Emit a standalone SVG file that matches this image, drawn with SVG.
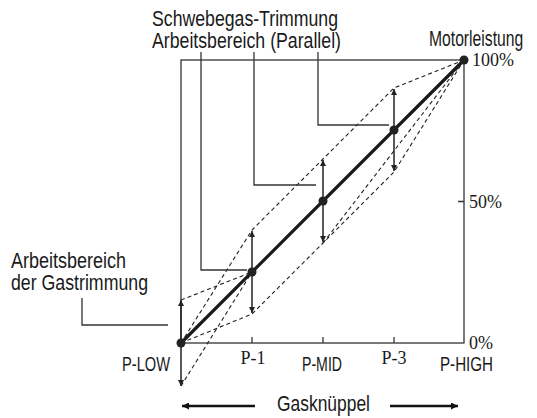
<svg xmlns="http://www.w3.org/2000/svg" width="537" height="418" viewBox="0 0 537 418">
<style>
.sans{font-family:"Liberation Sans",Arial,sans-serif;font-size:21.5px;fill:#1a1a1a}
.sm{font-size:19.5px}
.serif{font-family:"Liberation Serif","Times New Roman",serif;font-size:18px;fill:#1a1a1a}
.frame{fill:none;stroke:#333;stroke-width:1.3}
.lead{fill:none;stroke:#333;stroke-width:1.3}
.dash{fill:none;stroke:#222;stroke-width:1.1;stroke-dasharray:4 3}
.main{fill:none;stroke:#1a1a1a;stroke-width:3.2}
.varr{fill:none;stroke:#222;stroke-width:1.5;marker-start:url(#ah);marker-end:url(#ah)}
.uarr{fill:none;stroke:#222;stroke-width:1.5;marker-end:url(#ah)}
.big{fill:none;stroke:#111;stroke-width:2.4;marker-end:url(#bh)}
.dot{fill:#222}
</style>
<defs>
<marker id="ah" viewBox="0 0 10 10" refX="10" refY="5" markerWidth="8" markerHeight="6" markerUnits="userSpaceOnUse" orient="auto-start-reverse">
<path d="M0,0 L10,5 L0,10 Z" fill="#222"/>
</marker>
<marker id="bh" viewBox="0 0 10 10" refX="10" refY="5" markerWidth="11" markerHeight="7" markerUnits="userSpaceOnUse" orient="auto">
<path d="M0,0 L10,5 L0,10 Z" fill="#111"/>
</marker>
</defs>

<g id="frame">
<rect class="frame" x="181" y="60" width="283" height="283"/>
<path class="frame" d="M252,337 V343 M323,337 V343 M394,337 V343 M458,201.5 H464"/>
</g>

<g id="connectors">
<path class="dash" d="M181,343 L252,230 L323,159 L394,88 L464,60"/>
<path class="dash" d="M181,343 L252,314 L323,243 L394,172 L464,60"/>
<path class="dash" d="M323,243 L464,60"/>
<path class="dash" d="M181,300 L252,272 M181,386 L252,272"/>
<path class="main" d="M181,343 L464,60"/>
<path class="varr" d="M252,231 V313"/>
<path class="varr" d="M323,160 V242"/>
<path class="varr" d="M394,89 V171"/>
<path class="uarr" d="M181,343 V300"/>
<path class="uarr" d="M181,343 V386"/>
<path class="lead" d="M201,52 V270 H247"/>
<path class="lead" d="M254,52 V185 H316"/>
<path class="lead" d="M318,52 V125 H389"/>
<path class="lead" d="M82,298 V325 H168"/>
<path class="big" d="M255,406 H182"/>
<path class="big" d="M390,406 H458"/>
</g>

<g id="points">
<circle class="dot" cx="181" cy="343" r="4.5"/>
<circle class="dot" cx="252" cy="272" r="4.5"/>
<circle class="dot" cx="323" cy="201" r="4.5"/>
<circle class="dot" cx="394" cy="130" r="4.5"/>
<circle class="dot" cx="464" cy="60" r="4.5"/>
</g>

<g id="label-hover">
<text class="sans" x="152" y="26" textLength="186" lengthAdjust="spacingAndGlyphs">Schwebegas-Trimmung</text>
<text class="sans" x="152" y="48" textLength="189" lengthAdjust="spacingAndGlyphs">Arbeitsbereich (Parallel)</text>
</g>
<g id="label-trim">
<text class="sans" x="11" y="268" textLength="115" lengthAdjust="spacingAndGlyphs">Arbeitsbereich</text>
<text class="sans" x="11" y="290" textLength="137" lengthAdjust="spacingAndGlyphs">der Gastrimmung</text>
</g>
<g id="label-motor">
<text class="sans" transform="translate(429,46) scale(0.73,1)" x="0" y="0">Motorleistung</text>
</g>
<g id="y-axis">
<text class="serif" x="472" y="66">100%</text>
<text class="serif" x="469" y="208">50%</text>
<text class="serif" x="469" y="349">0%</text>
</g>
<g id="x-axis">
<text class="sans sm" x="122" y="371" textLength="48" lengthAdjust="spacingAndGlyphs">P-LOW</text>
<text class="serif" x="253" y="364" text-anchor="middle">P-1</text>
<text class="sans sm" x="302" y="371" textLength="40" lengthAdjust="spacingAndGlyphs">P-MID</text>
<text class="serif" x="394" y="364" text-anchor="middle">P-3</text>
<text class="sans sm" x="440" y="371" textLength="53" lengthAdjust="spacingAndGlyphs">P-HIGH</text>
<text class="sans" x="277" y="411" textLength="93" lengthAdjust="spacingAndGlyphs">Gasknüppel</text>
</g>
</svg>
